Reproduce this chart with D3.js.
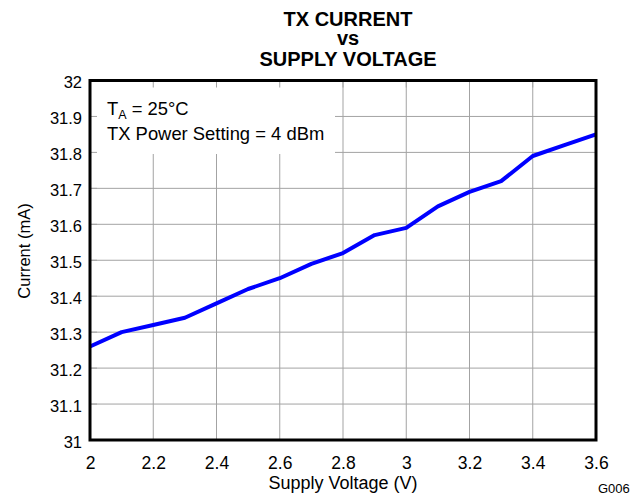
<!DOCTYPE html>
<html>
<head>
<meta charset="utf-8">
<script src="https://cdn.jsdelivr.net/npm/d3@7/dist/d3.min.js"></script>
<style>
  html, body { margin: 0; padding: 0; background: #fff; }
  svg { display: block; font-family: "Liberation Sans", Arial, sans-serif; }
</style>
</head>
<body>
<svg id="chart" width="642" height="495"></svg>
<script>
const voltage = [2.0, 2.1, 2.2, 2.3, 2.4, 2.5, 2.6, 2.7, 2.8, 2.9, 3.0, 3.1, 3.2, 3.3, 3.4, 3.5, 3.6];
const current = [31.26, 31.30, 31.32, 31.34, 31.38, 31.42, 31.45, 31.49, 31.52, 31.57, 31.59, 31.65, 31.69, 31.72, 31.79, 31.82, 31.85];
const xTicks = [2, 2.2, 2.4, 2.6, 2.8, 3, 3.2, 3.4, 3.6];
const yTicks = [31, 31.1, 31.2, 31.3, 31.4, 31.5, 31.6, 31.7, 31.8, 31.9, 32];
const titleLines = ["TX CURRENT", "vs", "SUPPLY VOLTAGE"];

const svg = d3.select("#chart");
const L = 90, R = 596, T = 80.5, B = 440;
const x = d3.scaleLinear().domain([2, 3.6]).range([L, R]);
const y = d3.scaleLinear().domain([31, 32]).range([B, T]);
const gridColor = "#a3a3a3";

// gridlines
const grid = svg.append("g");
grid.selectAll("line.vx").data(xTicks.slice(1, -1)).enter().append("line")
  .attr("x1", d => x(d)).attr("x2", d => x(d)).attr("y1", T).attr("y2", B)
  .attr("stroke", gridColor).attr("stroke-width", 1);
grid.selectAll("line.hy").data(yTicks.slice(1, -1)).enter().append("line")
  .attr("y1", d => y(d)).attr("y2", d => y(d)).attr("x1", L).attr("x2", R)
  .attr("stroke", gridColor).attr("stroke-width", 1);

// annotation background box
svg.append("rect").attr("x", L).attr("y", T).attr("width", 335 - L).attr("height", 154 - T)
  .attr("fill", "#fff");

// inward ticks (top and left)
svg.append("g").selectAll("line").data(xTicks.slice(1, -1)).enter().append("line")
  .attr("x1", d => x(d)).attr("x2", d => x(d)).attr("y1", T).attr("y2", T + 7)
  .attr("stroke", gridColor);
svg.append("g").selectAll("line").data(yTicks.slice(1, -1)).enter().append("line")
  .attr("y1", d => y(d)).attr("y2", d => y(d)).attr("x1", L).attr("x2", L + 7)
  .attr("stroke", gridColor);

// data line
const line = d3.line().x((d, i) => x(voltage[i])).y(d => y(d));
svg.append("path").datum(current).attr("d", line)
  .attr("fill", "none").attr("stroke", "#0000ff").attr("stroke-width", 4)
  .attr("stroke-linejoin", "round");

// border
svg.append("rect").attr("x", L).attr("y", T).attr("width", R - L).attr("height", B - T)
  .attr("fill", "none").attr("stroke", "#000").attr("stroke-width", 3);

// axes labels using d3 axes (no domain/ticks lines)
const xAxis = svg.append("g").attr("transform", `translate(0,${B})`)
  .call(d3.axisBottom(x).tickValues(xTicks).tickSize(0).tickPadding(0).tickFormat(d3.format("")));
xAxis.select(".domain").remove();
xAxis.selectAll("text").attr("font-size", 17.5).attr("fill", "#000")
  .attr("font-family", "Liberation Sans, Arial, sans-serif").attr("dy", null).attr("y", 28.5);

const yAxis = svg.append("g").attr("transform", `translate(${L},0)`)
  .call(d3.axisLeft(y).tickValues(yTicks).tickSize(0).tickPadding(0).tickFormat(d3.format("")));
yAxis.select(".domain").remove();
yAxis.selectAll("text").attr("font-size", 16.5).attr("fill", "#000")
  .attr("font-family", "Liberation Sans, Arial, sans-serif").attr("x", -8).attr("dy", 7);

// titles
svg.append("g").selectAll("text").data(titleLines).enter().append("text")
  .attr("x", 348).attr("y", (d, i) => [26, 45, 66][i])
  .attr("text-anchor", "middle").attr("font-weight", "bold").attr("font-size", 20)
  .text(d => d);

svg.append("text").attr("x", (L + R) / 2).attr("y", 489).attr("text-anchor", "middle")
  .attr("font-size", 18).text("Supply Voltage (V)");

svg.append("text").attr("transform", "translate(30,251) rotate(-90)").attr("text-anchor", "middle")
  .attr("font-size", 16.5).text("Current (mA)");

svg.append("text").attr("x", 598).attr("y", 493).attr("font-size", 13).text("G006");

// annotation
const t1 = svg.append("text").attr("x", 107).attr("y", 115).attr("font-size", 18.4);
t1.append("tspan").text("T");
t1.append("tspan").attr("font-size", 12.5).attr("dy", 4).text("A");
t1.append("tspan").attr("dy", -4).text(" = 25°C");
svg.append("text").attr("x", 107).attr("y", 140).attr("font-size", 18.4).text("TX Power Setting = 4 dBm");
</script>
</body>
</html>
